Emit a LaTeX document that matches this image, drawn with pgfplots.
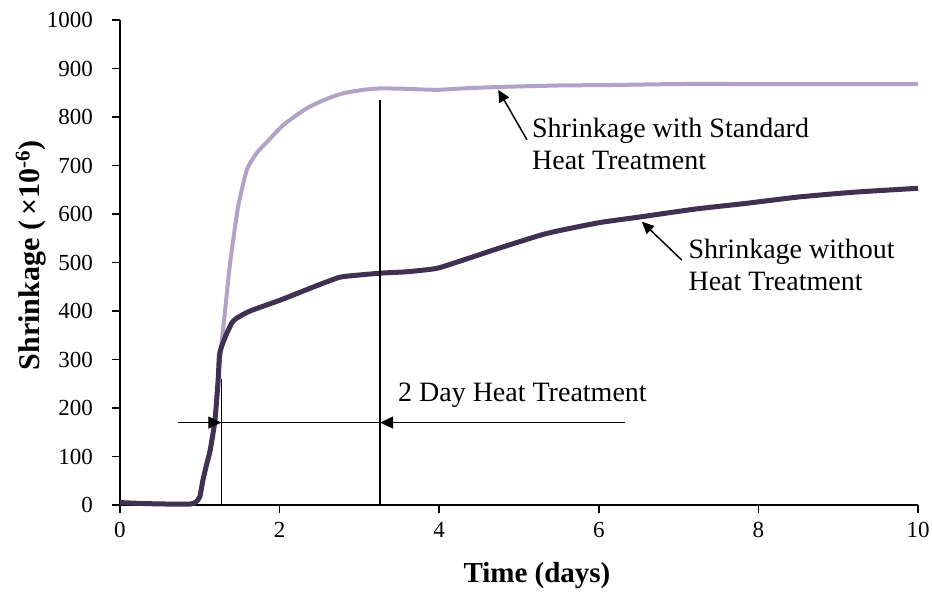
\documentclass[border=0pt]{standalone}
\usepackage{fontspec}
\setmainfont{Liberation Serif}
\usepackage{pgfplots}
\pgfplotsset{compat=1.18}
\usetikzlibrary{arrows.meta}
\definecolor{darkp}{HTML}{403152}
\definecolor{lightp}{HTML}{B3A2C7}
\begin{document}
\begin{tikzpicture}
\path[use as bounding box] (-60pt,-43pt) rectangle (406pt,252.5pt);
\begin{axis}[
  at={(0,0)}, anchor=south west,
  scale only axis, width=399pt, height=242.5pt,
  xmin=0, xmax=10, ymin=0, ymax=1000,
  axis x line*=bottom, axis y line*=left,
  axis line style={line width=0.75pt, -},
  xtick={0,2,...,10}, ytick={0,100,...,1000},
  tick align=outside, major tick length=4pt,
  tick style={black, line width=0.75pt},
  /pgf/number format/assume math mode=true,
  /pgf/number format/1000 sep={},
  ticklabel style={font=\fontsize{11.5}{13}\selectfont},
  yticklabel style={xshift=-6pt},
  xticklabel style={yshift=-1pt},
  xlabel={Time (days)},
  ylabel={Shrinkage (\,×10\textsuperscript{-6})},
  xlabel style={font=\fontsize{14.5}{17}\selectfont\bfseries, at={(axis description cs:0.5225,-0.1608)}, anchor=base},
  ylabel style={font=\fontsize{15}{17}\selectfont\bfseries, at={(axis description cs:-0.1003,0.515)}, anchor=base},
  clip=false,
]
\addplot[lightp, line width=2pt, no marks, smooth, tension=0.35] coordinates {
(0,5) (0.3,3) (0.6,2) (0.88,2) (0.95,6) (1.0,17) (1.04,52) (1.08,80) (1.13,113) (1.19,175) (1.23,258)
(1.27,330) (1.32,406) (1.38,499) (1.48,615) (1.59,691) (1.71,725) (1.85,750) (2.05,784) (2.34,818)
(2.6,838) (2.8,849) (3.05,856) (3.26,859) (3.6,858) (3.97,856) (4.3,859) (4.76,862) (5.5,865)
(6.18,866) (7,868) (8,868) (9,868) (10,868)
};
\addplot[darkp, line width=2.5pt, no marks, smooth, tension=0.35] coordinates {
(0,5) (0.3,3) (0.6,2) (0.88,2) (0.95,6) (1.0,17) (1.04,52) (1.08,80) (1.13,113) (1.19,175) (1.23,258)
(1.25,313) (1.32,347) (1.40,375) (1.46,385) (1.63,400) (2.0,422) (2.4,448) (2.67,465) (2.8,471)
(3.26,478) (3.6,481) (3.97,488) (4.3,505) (4.76,530) (5.35,560) (6.0,582) (6.52,594) (7.2,610)
(7.85,622) (8.5,635) (9.2,645) (10,653)
};
\draw[line width=0.65pt] (axis cs:1.27,0) -- (axis cs:1.27,259);
\draw[line width=0.65pt] (axis cs:3.26,0) -- (axis cs:3.26,836);
\draw[line width=0.65pt] (axis cs:0.73,170) -- (axis cs:6.33,170);
\draw[line width=0.65pt,-{Triangle[length=6.5pt,width=6pt]}] (axis cs:0.73,170) -- (axis cs:1.27,170);
\draw[line width=0.65pt,-{Triangle[length=6.5pt,width=6pt]}] (axis cs:6.33,170) -- (axis cs:3.26,170);
\node[anchor=west, inner sep=0pt, font=\fontsize{14}{16}\selectfont] at (axis cs:3.48,227) {2 Day Heat Treatment};
\draw[line width=0.75pt,-{Triangle[length=6pt,width=5.5pt]}] (axis cs:5.10,753) -- (axis cs:4.74,856);
\node[anchor=west, inner sep=0pt, align=left, font=\fontsize{14}{16}\selectfont] at (axis cs:5.16,744) {Shrinkage with Standard\\Heat Treatment};
\draw[line width=0.75pt,-{Triangle[length=6pt,width=5.5pt]}] (axis cs:7.04,505) -- (axis cs:6.54,584);
\node[anchor=west, inner sep=0pt, align=left, font=\fontsize{14}{16}\selectfont] at (axis cs:7.12,495) {Shrinkage without\\Heat Treatment};
\end{axis}
\end{tikzpicture}
\end{document}
